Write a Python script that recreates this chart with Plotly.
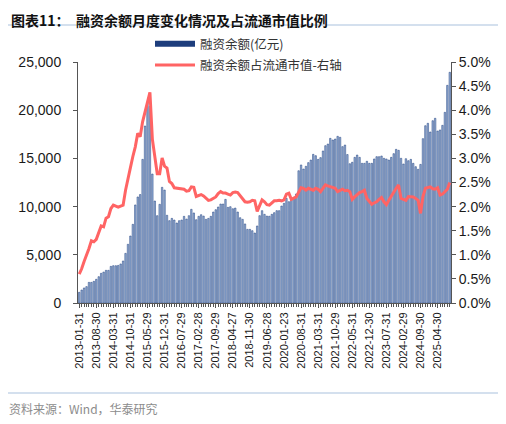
import plotly.graph_objects as go

# 融资余额(亿元), monthly 2013-01 .. 2025-09
balance = [
    1110, 1350, 1560, 1700, 2140, 2140, 2250, 2460, 2730, 3080, 3210, 3390,      # 2013
    3390, 3800, 3870, 3870, 3900, 4050, 4360, 5150, 6090, 6950, 8160, 10170,     # 2014
    11000, 11250, 14900, 18360, 20750, 20400, 13380, 10580, 9060, 10240, 12000, 11720,  # 2015
    9100, 8540, 8780, 8610, 8300, 8540, 8610, 8990, 8710, 9060, 9720, 9340,      # 2016
    8640, 8990, 9160, 9020, 8680, 8780, 8990, 9440, 9680, 9960, 10270, 10270,    # 2017
    10750, 9920, 9990, 9780, 9850, 9440, 8850, 8680, 8200, 7640, 7640, 7500,     # 2018
    7260, 7990, 9060, 9580, 9200, 9020, 9000, 9200, 9370, 9580, 9580, 10060,     # 2019
    10340, 10860, 10510, 10750, 10890, 11310, 13720, 14320, 13900, 14180, 14560, 14830,  # 2020
    15420, 15280, 14900, 15080, 15770, 16320, 16490, 17080, 16910, 17010, 17290, 17190,  # 2021
    16220, 16390, 15400, 14450, 14600, 15110, 15350, 15110, 14490, 14490, 14700, 14490,  # 2022
    14490, 14940, 15180, 15180, 15250, 15010, 14940, 14830, 15110, 15490, 15940, 15840,  # 2023
    15010, 14420, 14970, 14760, 14900, 14490, 14140, 13870, 14380, 17050, 18390, 18640,  # 2024
    17740, 18910, 19160, 17840, 17950, 18430, 19780, 22580, 23930,                # 2025
]

# 融资余额占流通市值(%)
ratio = [
    0.60, 0.71, 0.86, 0.98, 1.13, 1.29, 1.27, 1.32, 1.45, 1.60, 1.58, 1.76,
    1.79, 1.96, 2.03, 2.01, 1.99, 2.01, 2.03, 2.34, 2.55, 2.81, 3.04, 3.24,
    3.52, 3.45, 3.76, 3.97, 4.18, 4.37, 3.40, 3.00, 2.68, 2.68, 3.01, 2.84,
    2.80, 2.52, 2.48, 2.39, 2.38, 2.38, 2.37, 2.36, 2.32, 2.33, 2.41, 2.40,
    2.21, 2.23, 2.25, 2.22, 2.17, 2.13, 2.14, 2.17, 2.20, 2.27, 2.31, 2.28,
    2.28, 2.26, 2.24, 2.29, 2.30, 2.29, 2.22, 2.16, 2.10, 2.09, 2.10, 2.13,
    2.12, 1.90, 2.02, 2.14, 2.10, 2.04, 2.03, 2.08, 2.12, 2.12, 2.13, 2.12,
    2.14, 2.26, 2.28, 2.15, 2.17, 2.20, 2.30, 2.39, 2.38, 2.34, 2.38, 2.36,
    2.34, 2.38, 2.36, 2.31, 2.38, 2.45, 2.43, 2.41, 2.40, 2.38, 2.31, 2.34,
    2.36, 2.33, 2.34, 2.31, 2.15, 2.20, 2.24, 2.29, 2.31, 2.34, 2.17, 2.10,
    2.05, 2.08, 2.10, 2.15, 2.19, 2.10, 2.04, 2.13, 2.22, 2.31, 2.38, 2.45,
    2.17, 2.15, 2.13, 2.21, 2.20, 2.20, 2.17, 2.13, 1.86, 2.21, 2.38, 2.40,
    2.41, 2.37, 2.36, 2.39, 2.24, 2.26, 2.31, 2.36, 2.50,
]

tick_labels = [
    "2013-01-31", "2013-08-30", "2014-03-31", "2014-10-31", "2015-05-29",
    "2015-12-31", "2016-07-29", "2017-02-28", "2017-09-29", "2018-04-27",
    "2018-11-30", "2019-06-28", "2020-01-23", "2020-08-31", "2021-03-31",
    "2021-10-29", "2022-05-31", "2022-12-30", "2023-07-31", "2024-02-29",
    "2024-09-30", "2025-04-30",
]

months = list(range(len(balance)))
tick_pos = [7 * k for k in range(len(tick_labels))]

NAVY = "#1d3d7c"
RED = "#ff6464"
CJK = "Noto Sans CJK SC"
NUM = "Liberation Sans, Arial"

# the page body adds an 8px margin, so lay out everything 8px up/left
OFF = 8
L, R, T, B = 78 - OFF, 451 - OFF, 62 - OFF, 303 - OFF

fig = go.Figure()
fig.add_trace(go.Bar(
    x=months, y=balance,
    marker=dict(color="#9bb4d8", line=dict(color=NAVY, width=0.5)),
    name="融资余额(亿元)", showlegend=False, yaxis="y",
))
fig.add_trace(go.Scatter(
    x=months, y=ratio, mode="lines",
    line=dict(color=RED, width=3),
    name="融资余额占流通市值-右轴", showlegend=False, yaxis="y2",
))
# legend entries
fig.add_trace(go.Scatter(
    x=[None], y=[None], mode="lines", line=dict(color=NAVY, width=6),
    name="融资余额(亿元)", legendgroup="a",
))
fig.add_trace(go.Scatter(
    x=[None], y=[None], mode="lines", line=dict(color=RED, width=3),
    name="融资余额占流通市值-右轴", legendgroup="b",
))

def py(pix):
    # reference pixel row -> paper y
    return (B - (pix - OFF)) / (B - T)

def px_(pix):
    return ((pix - OFF) - L) / (R - L)

fig.update_layout(
    width=506, height=424,
    margin=dict(l=L, r=506 - R, t=T, b=424 - B, autoexpand=False),
    paper_bgcolor="white", plot_bgcolor="white",
    bargap=0.4,
    font=dict(family=NUM, size=14, color="#1a1a1a"),
    legend=dict(x=px_(150), xanchor="left",
                y=1 - 21 / 424, yref="container", yanchor="top",
                font=dict(family=CJK, size=12.5, color="#333333"),
                itemwidth=40, tracegroupgap=2, traceorder="grouped",
                bgcolor="rgba(0,0,0,0)"),
    xaxis=dict(
        range=[-0.5, len(balance) - 0.5],
        tickmode="array", tickvals=tick_pos, ticktext=tick_labels,
        tickangle=-90, tickfont=dict(family=NUM, size=11, color="#1a1a1a"),
        ticks="outside", ticklen=4, tickcolor="#555555",
        minor=dict(dtick=1, tick0=0, ticks="outside", ticklen=3, tickcolor="#555555"),
        showline=True, linecolor="#555555", linewidth=1,
        showgrid=False, zeroline=False,
    ),
    yaxis=dict(
        range=[0, 25000], dtick=5000, tickformat=",",
        ticks="outside", ticklen=4, tickcolor="#555555", ticklabelstandoff=9,
        showline=True, linecolor="#555555", linewidth=1,
        showgrid=False, zeroline=False,
    ),
    yaxis2=dict(
        range=[0, 5], dtick=0.5, tickformat=".1f", ticksuffix="%",
        overlaying="y", side="right",
        ticks="outside", ticklen=4, tickcolor="#555555",
        showline=True, linecolor="#555555", linewidth=1,
        showgrid=False, zeroline=False,
    ),
    shapes=[
        dict(type="line", xref="paper", yref="paper",
             x0=px_(5), x1=px_(501), y0=py(25), y1=py(25),
             line=dict(color="#a9c1dd", width=1)),
        dict(type="line", xref="paper", yref="paper",
             x0=px_(5), x1=px_(501), y0=py(393), y1=py(393),
             line=dict(color="#a9c1dd", width=1)),
    ],
    annotations=[
        dict(text="<b>图表11：  融资余额月度变化情况及占流通市值比例</b>",
             xref="paper", yref="paper", x=px_(10), y=py(9),
             xanchor="left", yanchor="top", showarrow=False, borderpad=0,
             font=dict(family=CJK, size=14, color="#111111")),
        dict(text="资料来源：Wind，华泰研究", xref="paper", yref="paper",
             x=px_(7), y=py(408), xanchor="left", yanchor="middle",
             showarrow=False, font=dict(family=CJK, size=12, color="#8c8c8c")),
    ],
)

fig.write_html("out.html")
